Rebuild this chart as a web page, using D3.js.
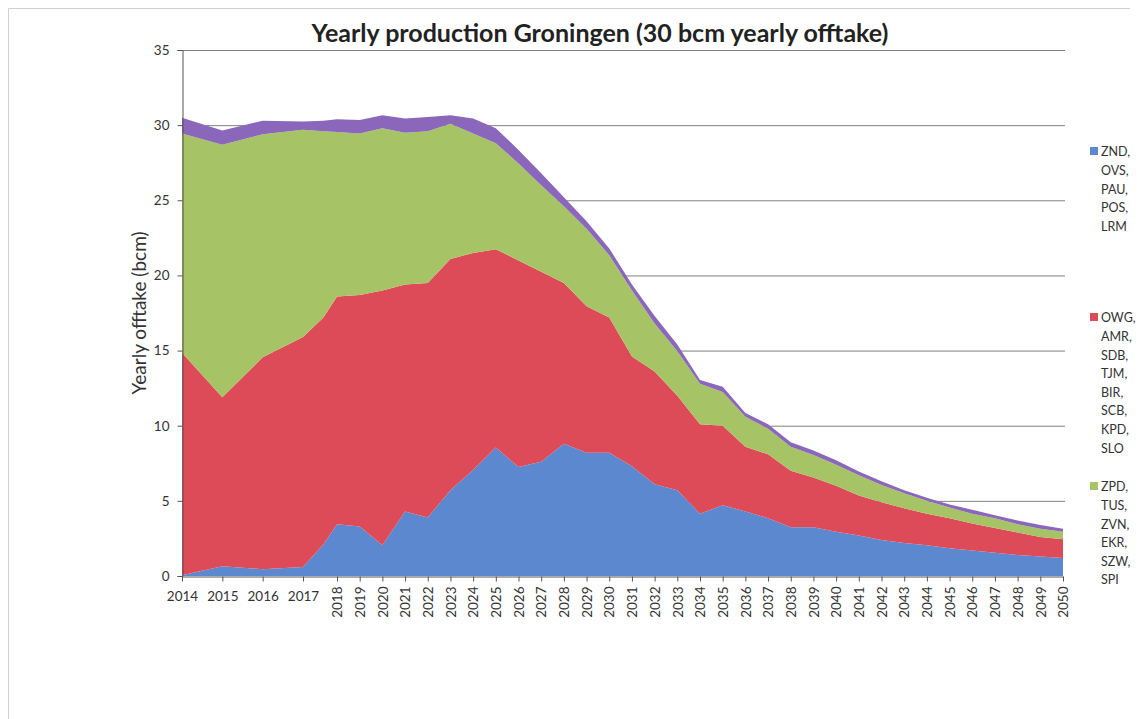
<!DOCTYPE html>
<html>
<head>
<meta charset="utf-8">
<script src="https://cdn.jsdelivr.net/npm/d3@7"></script>
<style>
  body { margin: 0; background: #fff; }
  svg { display: block; }
</style>
</head>
<body>
<svg id="chart"></svg>
<script>
// data (bcm per year); 2017.6 is an extra unlabeled point
var periods = [2014, 2015, 2016, 2017, 2017.6, 2018, 2019, 2020, 2021, 2022, 2023, 2024, 2025, 2026, 2027,
  2028, 2029, 2030, 2031, 2032, 2033, 2034, 2035, 2036, 2037, 2038, 2039, 2040, 2041, 2042, 2043,
  2044, 2045, 2046, 2047, 2048, 2049, 2050];

var zndValues = [0.05, 0.65, 0.45, 0.6, 2.1, 3.45, 3.3, 2.05, 4.3, 3.9, 5.7, 7.05, 8.55, 7.25, 7.6,
  8.8, 8.2, 8.2, 7.3, 6.1, 5.7, 4.15, 4.7, 4.3, 3.85, 3.25, 3.25, 2.95, 2.7, 2.4, 2.2,
  2.05, 1.85, 1.7, 1.55, 1.4, 1.3, 1.2];
var owgValues = [14.8, 11.25, 14.1, 15.3, 15.1, 15.15, 15.4, 16.95, 15.1, 15.6, 15.4, 14.45, 13.2, 13.75, 12.65,
  10.7, 9.75, 9.0, 7.3, 7.5, 6.3, 5.95, 5.3, 4.3, 4.25, 3.75, 3.3, 3.05, 2.65, 2.5, 2.3,
  2.1, 2.0, 1.8, 1.65, 1.5, 1.3, 1.25];
var zpdValues = [14.6, 16.8, 14.85, 13.8, 12.4, 10.95, 10.75, 10.8, 10.1, 10.1, 9.0, 7.95, 7.05, 6.45, 5.75,
  5.1, 5.15, 4.15, 4.4, 3.2, 2.95, 2.7, 2.25, 2.0, 1.7, 1.6, 1.5, 1.4, 1.35, 1.15, 1.0,
  0.85, 0.7, 0.65, 0.65, 0.55, 0.55, 0.5];
var otherValues = [1.05, 0.95, 0.9, 0.55, 0.7, 0.85, 0.9, 0.85, 0.95, 0.95, 0.55, 1.0, 1.0, 0.9, 0.8,
  0.6, 0.5, 0.45, 0.4, 0.5, 0.45, 0.25, 0.35, 0.25, 0.3, 0.3, 0.3, 0.3, 0.25, 0.25, 0.2,
  0.2, 0.2, 0.25, 0.2, 0.25, 0.25, 0.2];

var flatYears = [2014, 2015, 2016, 2017];
var rotatedYears = d3.range(2018, 2051);
var yTicks = [0, 5, 10, 15, 20, 25, 30, 35];

var seriesNames = ["ZND,\nOVS,\nPAU,\nPOS,\nLRM", "OWG,\nAMR,\nSDB,\nTJM,\nBIR,\nSCB,\nKPD,\nSLO",
  "ZPD,\nTUS,\nZVN,\nEKR,\nSZW,\nSPI", "other"];
var colors = ["#5c88d0", "#de4b58", "#a6c465", "#8a67bb"];

var width = 1138, height = 719;
var fontFamily = "Lato, 'Open Sans', sans-serif";

var svg = d3.select("#chart").attr("width", width).attr("height", height);

// faint scan frame (top and left edges)
svg.append("path")
  .attr("d", "M8.5,719V8.5H1130")
  .attr("fill", "none")
  .attr("stroke", "#d0d0d0");

// x scale: first years are spaced wider than the rest
var x = d3.scaleLinear()
  .domain([2014, 2017, 2018, 2050])
  .range([182, 303, 337, 1063]);

var y = d3.scaleLinear()
  .domain([0, 35])
  .range([576, 50]);

// gridlines
svg.append("g")
  .selectAll("line")
  .data(yTicks.filter(function(d) { return d > 0; }))
  .enter()
  .append("line")
  .attr("x1", 182).attr("x2", 1065)
  .attr("y1", function(d) { return y(d) + 0.5; })
  .attr("y2", function(d) { return y(d) + 0.5; })
  .attr("stroke", "#808080")
  .attr("stroke-width", 1);

// stack
var table = periods.map(function(p, i) {
  return { period: p, s0: zndValues[i], s1: owgValues[i], s2: zpdValues[i], s3: otherValues[i] };
});
var stacked = d3.stack().keys(["s0", "s1", "s2", "s3"])(table);

var area = d3.area()
  .x(function(d) { return x(d.data.period); })
  .y0(function(d) { return y(d[0]); })
  .y1(function(d) { return y(d[1]); });

svg.append("g")
  .selectAll("path")
  .data(stacked)
  .enter()
  .append("path")
  .attr("d", area)
  .attr("fill", function(d, i) { return colors[i]; });

// y axis
var yAxis = svg.append("g")
  .attr("transform", "translate(182.5,0)")
  .call(d3.axisLeft(y).tickValues(yTicks).tickSize(5).tickPadding(8));
yAxis.select(".domain").attr("stroke", "#555");
yAxis.selectAll(".tick line").attr("stroke", "#555");
yAxis.selectAll("text")
  .style("font-family", fontFamily)
  .style("font-size", "13.5px")
  .attr("fill", "#333");

// x axis
var xAxis = svg.append("g")
  .attr("transform", "translate(0,576.5)")
  .call(d3.axisBottom(x).tickValues(flatYears.concat(rotatedYears)).tickFormat(d3.format("d")).tickSize(5).tickSizeOuter(0));
xAxis.select(".domain").attr("stroke", "#555");
xAxis.selectAll(".tick line").attr("stroke", "#555");
xAxis.selectAll("text")
  .style("font-family", fontFamily)
  .style("font-size", "13.5px")
  .attr("fill", "#333");
xAxis.selectAll(".tick")
  .filter(function(d) { return d >= 2018; })
  .select("text")
  .attr("transform", "rotate(-90)")
  .attr("x", -10)
  .attr("y", 0)
  .attr("dy", "0.35em")
  .style("text-anchor", "end");
xAxis.selectAll(".tick")
  .filter(function(d) { return d < 2018; })
  .select("text")
  .attr("y", 15);

// title
svg.append("text")
  .attr("x", 600)
  .attr("y", 42)
  .attr("text-anchor", "middle")
  .text("Yearly production Groningen (30 bcm yearly offtake)")
  .style("font-family", fontFamily)
  .style("font-weight", "bold")
  .style("font-size", "25px")
  .attr("fill", "#222");

// y axis title
svg.append("text")
  .attr("transform", "translate(146,313) rotate(-90)")
  .attr("text-anchor", "middle")
  .text("Yearly offtake (bcm)")
  .style("font-family", fontFamily)
  .style("font-size", "19px")
  .attr("fill", "#333");

// legend (first three series only)
var legendTop = [152, 318, 487];
var legend = svg.append("g")
  .selectAll("g")
  .data(seriesNames.slice(0, 3))
  .enter()
  .append("g")
  .attr("transform", function(d, i) { return "translate(1090," + legendTop[i] + ")"; });

legend.append("rect")
  .attr("x", 0).attr("y", -5)
  .attr("width", 8).attr("height", 8)
  .attr("fill", function(d, i) { return colors[i]; });

legend.append("text")
  .style("font-family", fontFamily)
  .style("font-size", "12.5px")
  .attr("fill", "#333")
  .selectAll("tspan")
  .data(function(d) { return d.split("\n"); })
  .enter()
  .append("tspan")
  .attr("x", 11)
  .attr("y", function(d, i) { return i * 18.6; })
  .attr("dy", "0.35em")
  .text(function(d) { return d; });
</script>
</body>
</html>
